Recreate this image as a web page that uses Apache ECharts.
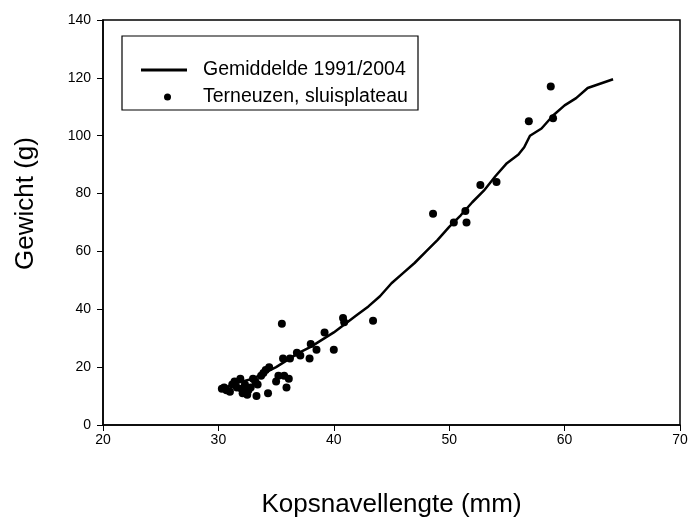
<!DOCTYPE html>
<html>
<head>
<meta charset="utf-8">
<script src="https://cdn.jsdelivr.net/npm/echarts@6/dist/echarts.min.js"></script>
<style>
  html, body { margin: 0; padding: 0; background: #fff; }
  #chart { width: 690px; height: 520px; }
</style>
</head>
<body>
<div id="chart"></div>
<script>
// gemiddelde lijn 1991/2004: lengte (mm), gewicht (g)
const lineX = [30, 31, 32, 33, 34, 35, 36, 37, 38, 39, 40, 41, 42, 43, 44, 45, 46, 47, 48, 49, 50,
    51, 52, 53, 54, 55, 56, 56.5, 57, 58, 59, 60, 61, 62, 64.2];
const lineY = [12.5, 13.5, 15, 16, 18, 20, 22.5, 25, 27, 29.5, 32, 35, 38, 41, 44.5, 49, 52.5, 56, 60, 64, 68.5,
    72.5, 77, 81, 86, 90.5, 93.5, 96, 100, 102.5, 107, 110.5, 113, 116.5, 119.5];

// metingen Terneuzen, sluisplateau
const ptX = [30.3, 30.5, 30.7, 31.0, 31.2, 31.4, 31.6, 31.9, 32.0, 32.1, 32.3, 32.5, 32.6, 32.8, 33.0,
    33.2, 33.3, 33.4, 33.7, 33.9, 34.1, 34.3, 34.4, 35.0, 35.2, 35.5, 35.6, 35.7, 35.9, 36.1, 36.2,
    36.8, 37.1, 37.9, 38.0, 38.5, 39.2, 40.0, 40.8, 40.9, 43.4, 48.6, 50.4, 51.4, 51.5, 52.7, 54.1,
    56.9, 58.8, 59.0];
const ptY = [12.5, 13, 12, 11.5, 14, 15, 13, 16, 12.5, 11, 14, 10.5, 12, 13, 16,
    15, 10, 14, 17, 18, 19, 11, 20, 15, 17, 35, 23, 17, 13, 16, 23,
    25, 24, 23, 28, 26, 32, 26, 37, 35.5, 36, 73, 70, 74, 70, 83, 84,
    105, 117, 106];

const xTicks = { min: 20, max: 70, interval: 10 };
const yTicks = { min: 0, max: 140, interval: 20 };

const lineName = 'Gemiddelde 1991/2004';
const ptName = 'Terneuzen, sluisplateau';

const font = 'Arial, "Liberation Sans", sans-serif';

const chart = echarts.init(document.getElementById('chart'));

const axisCommon = {
    axisLine: { show: true, lineStyle: { color: '#000', width: 1.5 } },
    axisTick: { show: true, inside: false, length: 6, lineStyle: { color: '#000', width: 1 } },
    axisLabel: { color: '#000', fontSize: 14, fontFamily: font, margin: 12 },
    splitLine: { show: false },
    nameLocation: 'middle',
    nameTextStyle: { color: '#000', fontSize: 26, fontFamily: font }
};

chart.setOption({
    animation: false,
    backgroundColor: '#fff',
    grid: {
        left: 103, right: 10, top: 20, bottom: 95,
        outerBoundsMode: 'none', containLabel: false,
        show: true, borderColor: '#000', borderWidth: 1.5, backgroundColor: 'transparent'
    },
    xAxis: Object.assign({}, axisCommon, {
        type: 'value',
        min: xTicks.min, max: xTicks.max, interval: xTicks.interval,
        axisLabel: Object.assign({}, axisCommon.axisLabel, { margin: 8 }),
        name: 'Kopsnavellengte (mm)', nameGap: 67
    }),
    yAxis: Object.assign({}, axisCommon, {
        type: 'value',
        min: yTicks.min, max: yTicks.max, interval: yTicks.interval,
        name: 'Gewicht (g)', nameGap: 64,
        nameTextStyle: Object.assign({}, axisCommon.nameTextStyle, { padding: [0, 0, 0, 38] })
    }),
    graphic: [{
        type: 'rect',
        shape: { x: 122, y: 36, width: 296, height: 74 },
        style: { fill: '#fff', stroke: '#000', lineWidth: 1.2 },
        z: 50
    }],
    legend: [{
        data: [{ name: lineName, icon: 'rect' }],
        left: 141, top: 60,
        itemWidth: 46, itemHeight: 3, padding: 0,
        textStyle: { color: '#000', fontSize: 19.5, fontFamily: font, padding: [0, 0, 0, 11] },
        z: 60
    }, {
        data: [{ name: ptName, icon: 'circle' }],
        left: 164, top: 87,
        itemWidth: 7, itemHeight: 7, padding: 0,
        textStyle: { color: '#000', fontSize: 19.5, fontFamily: font, padding: [0, 0, 0, 27] },
        z: 60
    }],
    series: [{
        name: lineName,
        type: 'line',
        data: lineX.map((x, i) => [x, lineY[i]]),
        showSymbol: false,
        symbol: 'none',
        lineStyle: { color: '#000', width: 2.5 },
        itemStyle: { color: '#000' },
        z: 3
    }, {
        name: ptName,
        type: 'scatter',
        data: ptX.map((x, i) => [x, ptY[i]]),
        symbol: 'circle',
        symbolSize: 8,
        itemStyle: { color: '#000', opacity: 1 },
        z: 4
    }]
});
</script>
</body>
</html>
